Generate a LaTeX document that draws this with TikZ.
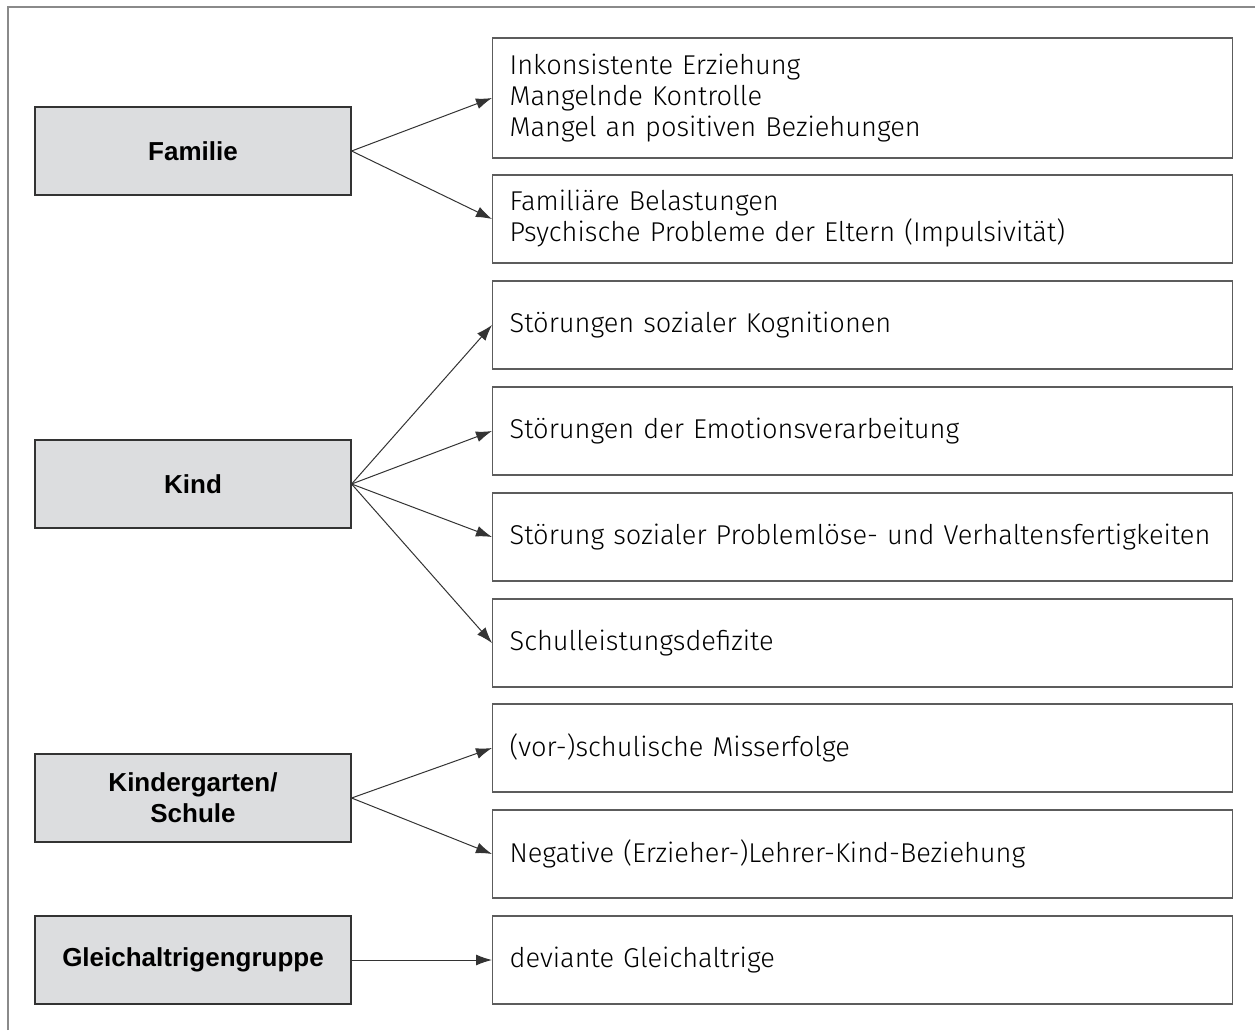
\documentclass[tikz,border=0pt]{standalone}
\usepackage{fontspec}
\setmainfont{Liberation Sans}
\newfontfamily\factorfont{Fira Sans}[UprightFont=* Light]
\usetikzlibrary{arrows.meta}
\definecolor{sourceGray}{HTML}{DCDDDF}
\definecolor{edgeGray}{HTML}{333333}
\definecolor{frameGray}{HTML}{8A8A8A}
\tikzset{
  source/.style={draw=edgeGray, fill=sourceGray, line width=0.6pt, minimum width=158pt, minimum height=44pt, align=center, font=\fontsize{13pt}{15.5pt}\selectfont\bfseries},
  factor/.style={draw=edgeGray!80, line width=0.6pt, anchor=west, minimum height=44pt, inner xsep=8.5pt, text width=353pt, align=left, font=\factorfont\fontsize{13.6pt}{15.5pt}\selectfont},
  link/.style={draw=edgeGray, line width=0.5pt, -{Latex[length=8pt,width=5.5pt]}}
}
\newcommand{\drawSource}[3]{\node [source] (#1) at #2 {#3}}
\newcommand{\drawFactor}[3]{\node [factor] (#1) at #2 {#3}}

\begin{document}
\begin{tikzpicture}[x=0.5pt, y=-0.5pt]
    \useasboundingbox (0,0) rectangle (1255,1030);
    \draw [frameGray, line width=1pt] (8,1030) -- (8,7) -- (1255,7);

    % for Familie
    \drawSource{familie}{(193,151)}{Familie};
    \node [factor, minimum height=60pt] (erziehung) at (492,98) {Inkonsistente Erziehung\\Mangelnde Kontrolle\\Mangel an positiven Beziehungen};
    \drawFactor{belastung}{(492,219)}{Familiäre Belastungen\\Psychische Probleme der Eltern (Impulsivität)};
    \draw [link] (familie.east) -- (erziehung.west);
    \draw [link] (familie.east) -- (belastung.west);

    % for Kind
    \drawSource{kind}{(193,484)}{Kind};
    \drawFactor{kognition}{(492,325)}{Störungen sozialer Kognitionen};
    \drawFactor{emotion}{(492,431)}{Störungen der Emotionsverarbeitung};
    \drawFactor{problem}{(492,537)}{Störung sozialer Problemlöse- und Verhaltensfertigkeiten};
    \drawFactor{leistung}{(492,643)}{Schulleistungsdefizite};
    \draw [link] (kind.east) -- (kognition.west);
    \draw [link] (kind.east) -- (emotion.west);
    \draw [link] (kind.east) -- (problem.west);
    \draw [link] (kind.east) -- (leistung.west);

    % for Kindergarten/Schule
    \drawSource{schule}{(193,798)}{Kindergarten/\\Schule};
    \drawFactor{misserfolg}{(492,748)}{(vor-)schulische Misserfolge};
    \drawFactor{lehrer}{(492,854)}{Negative (Erzieher-)Lehrer-Kind-Beziehung};
    \draw [link] (schule.east) -- (misserfolg.west);
    \draw [link] (schule.east) -- (lehrer.west);

    % for Gleichaltrigengruppe
    \drawSource{peers}{(193,960)}{Gleichaltrigengruppe};
    \drawFactor{deviant}{(492,960)}{deviante Gleichaltrige};
    \draw [link] (peers.east) -- (deviant.west);
\end{tikzpicture}
\end{document}
